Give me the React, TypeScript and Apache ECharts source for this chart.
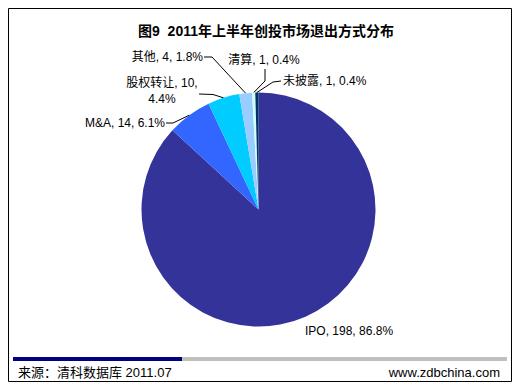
import React, { useEffect, useRef } from "react";
import * as echarts from "echarts";

// ---- data ----
const categories = ["IPO", "M&A", "股权转让", "其他", "清算", "未披露"];
const counts = [198, 14, 10, 4, 1, 1];
const percents = ["86.8", "6.1", "4.4", "1.8", "0.4", "0.4"];
const sliceColors = ["#333399", "#3366FF", "#00CCFF", "#99CCFF", "#CCFFFF", "#003366"];
const titleText = "图9  2011年上半年创投市场退出方式分布";
const sourceText = "来源：清科数据库 2011.07";
const siteText = "www.zdbchina.com";

// ---- label placement (layout only) ----
type LL = { x: number; y: number; align: string; elbow: number[] | null; end: number[] | null; wrap?: boolean };
const labelLayouts: LL[] = [
  { x: 305, y: 331, align: "left", elbow: null, end: null },
  { x: 165, y: 123, align: "right", elbow: [173, 123], end: [166, 123] },
  { x: 162, y: 91, align: "center", elbow: [213, 94.5], end: [199, 94], wrap: true },
  { x: 203, y: 57, align: "right", elbow: [212, 57], end: [204, 57] },
  { x: 264, y: 60, align: "center", elbow: [265, 81], end: [265, 69] },
  { x: 283, y: 81, align: "left", elbow: [273, 82], end: [281, 81] },
];

const FONT = "'Liberation Sans', 'Noto Sans CJK SC', sans-serif";

export default function App() {
  const ref = useRef<HTMLDivElement>(null);
  useEffect(() => {
    if (!ref.current) return;
    const chart = echarts.init(ref.current, undefined, { renderer: "svg" });
    const data = categories.map((name, i) => ({
      name,
      value: counts[i],
      itemStyle: { color: sliceColors[i] },
      labelLine: { show: labelLayouts[i].elbow !== null },
    }));
    chart.setOption({
      animation: false,
      backgroundColor: "#ffffff",
      series: [
        {
          type: "pie",
          center: [258.5, 209.5],
          radius: 117,
          startAngle: 90,
          clockwise: true,
          avoidLabelOverlap: false,
          silent: true,
          emphasis: { disabled: true },
          itemStyle: { borderWidth: 0 },
          data,
          label: {
            show: true,
            position: "outside",
            color: "#000",
            fontSize: 12,
            lineHeight: 16,
            fontFamily: FONT,
            formatter: (p: any) => {
              const i = p.dataIndex;
              const sep = labelLayouts[i].wrap ? ",\n" : ", ";
              return `${categories[i]}, ${counts[i]}${sep}${percents[i]}%`;
            },
          },
          labelLine: {
            show: true,
            length: 10,
            length2: 10,
            smooth: false,
            lineStyle: { color: "#000", width: 1 },
          },
          labelLayout: (params: any) => {
            const L = labelLayouts[params.dataIndex];
            const out: any = { x: L.x, y: L.y, align: L.align, verticalAlign: "middle" };
            const pts = params.labelLinePoints;
            if (L.elbow && pts && pts.length) {
              out.labelLinePoints = [pts[0], L.elbow, L.end];
            }
            return out;
          },
        },
      ],
      graphic: [
        {
          type: "rect",
          shape: { x: 8.5, y: 8.5, width: 503, height: 373 },
          style: { fill: "none", stroke: "#000", lineWidth: 1 },
        },
        {
          type: "text",
          x: 266,
          y: 31,
          style: {
            text: titleText,
            fontSize: 14,
            fontWeight: "bold",
            fontFamily: FONT,
            fill: "#000",
            align: "center",
            verticalAlign: "middle",
          },
        },
        {
          type: "rect",
          shape: { x: 13, y: 357, width: 169, height: 4 },
          style: { fill: "#000080" },
        },
        {
          type: "rect",
          shape: { x: 182, y: 357, width: 325, height: 4 },
          style: { fill: "#C0C0C0" },
        },
        {
          type: "text",
          x: 18,
          y: 372,
          style: {
            text: sourceText,
            fontSize: 13,
            fontFamily: FONT,
            fill: "#000",
            align: "left",
            verticalAlign: "middle",
          },
        },
        {
          type: "text",
          x: 500,
          y: 372,
          style: {
            text: siteText,
            fontSize: 13,
            fontFamily: FONT,
            fill: "#000",
            align: "right",
            verticalAlign: "middle",
          },
        },
      ],
    });
    return () => chart.dispose();
  }, []);
  return (
    <div
      ref={ref}
      style={{ position: "absolute", left: 0, top: 0, width: 520, height: 389 }}
    />
  );
}
